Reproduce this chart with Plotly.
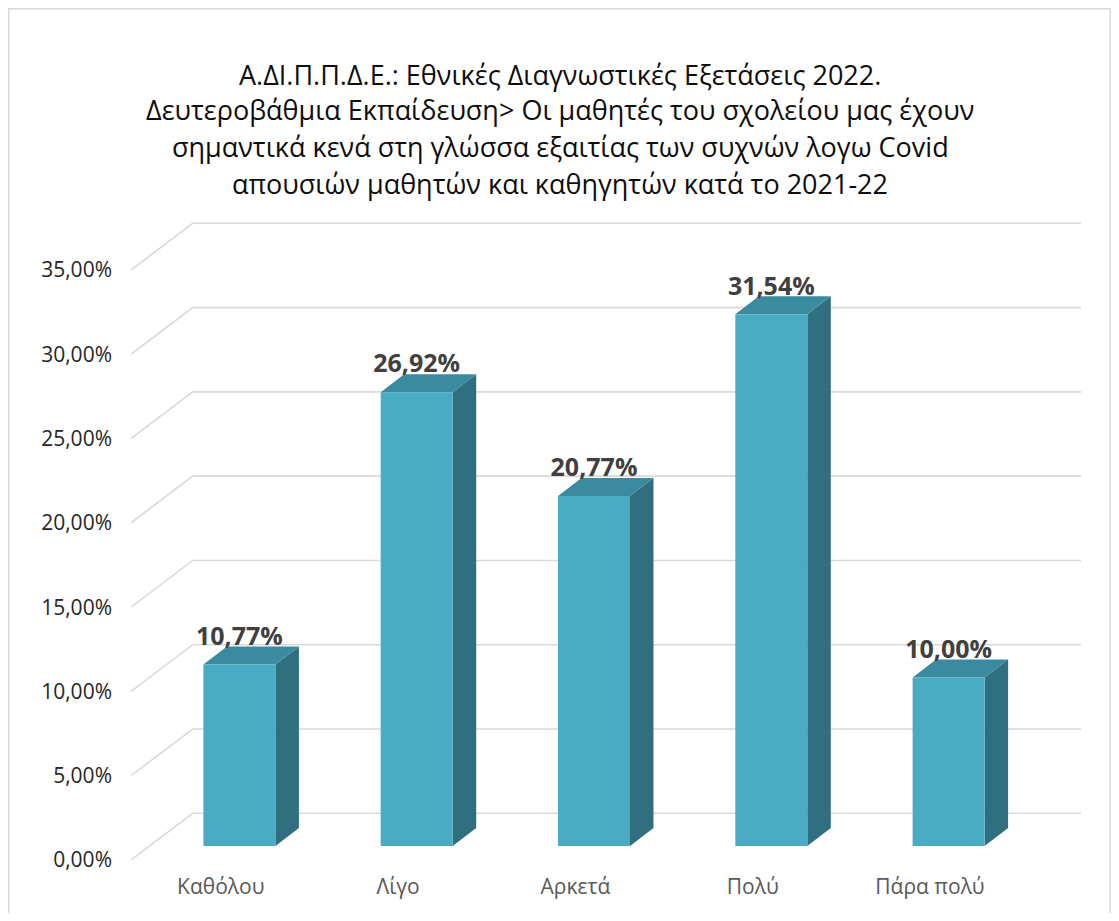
import plotly.graph_objects as go

# ---------------- data ----------------
categories = ["Καθόλου", "Λίγο", "Αρκετά", "Πολύ", "Πάρα πολύ"]
values = [10.77, 26.92, 20.77, 31.54, 10.00]
tick_values = [0, 5, 10, 15, 20, 25, 30, 35]
title_lines = [
    "Α.ΔΙ.Π.Π.Δ.Ε.: Εθνικές Διαγνωστικές Εξετάσεις 2022.",
    "Δευτεροβάθμια Εκπαίδευση> Οι μαθητές του σχολείου μας έχουν",
    "σημαντικά κενά στη γλώσσα εξαιτίας των συχνών λογω Covid",
    "απουσιών μαθητών και καθηγητών κατά το 2021-22",
]

# ---------------- geometry / style (screen pixels) ----------------
PAGE = 8                                   # default body margin of the page
FIG_W, FIG_H = 1119 - 2 * PAGE, 921 - 2 * PAGE
L, R, T, B = 131, 1081, 215, 860          # plot area (screen px)
W, H = R - L, B - T
PX_PER_UNIT_Y = 16.857
PX_PER_CAT = 177.3
BAR_CENTER0 = 239.4
LABEL_CENTER0 = 220.8
BAR_FLOOR_PX = 846
BAR_WIDTH_PX = 72
DEPTH_DX, DEPTH_DY = 23.5, 18.0             # bar depth
WALL_DX, WALL_DY = 61.7, 46.7               # wall depth
LABEL_DROP_PX = 4.5
TITLE_Y = [74, 110, 147, 184]
TITLE_X = 560

FONT = "Open Sans"
FRONT = "#4AABC5"
SIDE = "#306F7F"
TOP = "#3B8BA0"
GRID = "#D9D9D9"

y2_top = H / PX_PER_UNIT_Y
bar_shift = (B - BAR_FLOOR_PX) / PX_PER_UNIT_Y
bar_w = BAR_WIDTH_PX / PX_PER_CAT
ddx = DEPTH_DX / PX_PER_CAT
ddy = DEPTH_DY / PX_PER_UNIT_Y
wall_dy = WALL_DY / PX_PER_UNIT_Y
label_drop = LABEL_DROP_PX / PX_PER_UNIT_Y


def px_x(px):
    return (px - L) / W


def px_y(py):
    return (B - py) / H


def x2u(px):
    return (px - LABEL_CENTER0) / PX_PER_CAT


def pct(v):
    return f"{v:.2f}%".replace(".", ",")


fig = go.Figure()

# front faces of the bars
fig.add_trace(go.Bar(
    x=categories, y=values, width=bar_w,
    marker=dict(color=FRONT, line=dict(width=0)),
    xaxis="x", yaxis="y", hoverinfo="skip", showlegend=False,
))

# data labels
fig.add_trace(go.Scatter(
    x=categories, y=[v + ddy - label_drop for v in values], mode="text",
    text=[pct(v) for v in values],
    textposition="top center",
    textfont=dict(family=FONT, size=25, color="#404040", weight="bold"),
    xaxis="x", yaxis="y", hoverinfo="skip", showlegend=False,
))

# invisible trace carrying the category tick labels axis
fig.add_trace(go.Scatter(
    x=categories, y=[0] * len(categories), mode="markers",
    marker=dict(opacity=0), xaxis="x2", yaxis="y2",
    hoverinfo="skip", showlegend=False,
))

shapes = []
# border
shapes.append(dict(type="rect", xref="paper", yref="paper",
                   x0=px_x(PAGE + 0.8), x1=px_x(1119 - PAGE - 0.8),
                   y0=px_y(940), y1=px_y(PAGE + 0.8),
                   line=dict(color=GRID, width=1.5), layer="below"))

# 3-D gridlines (front edge -> back wall)
xf, xb, xr = x2u(L), x2u(L + WALL_DX), x2u(R)
for v in tick_values:
    shapes.append(dict(
        type="path", xref="x2", yref="y2",
        path=f"M {xf},{v} L {xb},{v + wall_dy} L {xr},{v + wall_dy}",
        line=dict(color=GRID, width=1.6), layer="below"))

# side and top faces of bars
for i, v in enumerate(values):
    xl, xrt = i - bar_w / 2, i + bar_w / 2
    shapes.append(dict(
        type="path", xref="x", yref="y",
        path=(f"M {xrt},0 L {xrt + ddx},{ddy} L {xrt + ddx},{v + ddy} "
              f"L {xrt},{v} Z"),
        fillcolor=SIDE, line=dict(width=0), layer="below"))
    shapes.append(dict(
        type="path", xref="x", yref="y",
        path=(f"M {xl},{v} L {xl + ddx},{v + ddy} L {xrt + ddx},{v + ddy} "
              f"L {xrt},{v} Z"),
        fillcolor=TOP, line=dict(width=0), layer="below"))

annotations = []
for line, yc in zip(title_lines, TITLE_Y):
    annotations.append(dict(
        text=line, xref="paper", yref="paper", x=px_x(TITLE_X), y=px_y(yc),
        xanchor="center", yanchor="middle", showarrow=False,
        font=dict(family=FONT, size=27, color="#0D0D0D")))

fig.update_layout(
    width=FIG_W, height=FIG_H,
    margin=dict(l=L - PAGE, r=FIG_W - (R - PAGE), t=T - PAGE,
                b=FIG_H - (B - PAGE), pad=0),
    paper_bgcolor="white", plot_bgcolor="rgba(0,0,0,0)",
    separators=",.",
    showlegend=False,
    font=dict(family=FONT),
    xaxis=dict(type="category", range=[(L - BAR_CENTER0) / PX_PER_CAT,
                                       (R - BAR_CENTER0) / PX_PER_CAT],
               showticklabels=False, showgrid=False, zeroline=False,
               showline=False, ticks="", fixedrange=True),
    yaxis=dict(range=[-bar_shift, y2_top - bar_shift], showticklabels=False,
               showgrid=False, zeroline=False, showline=False, ticks="",
               fixedrange=True),
    xaxis2=dict(type="category", overlaying="x", side="bottom", anchor="y2",
                range=[x2u(L), x2u(R)], showgrid=False, zeroline=False,
                showline=False, ticks="", ticklabelstandoff=12,
                tickfont=dict(family=FONT, size=21, color="#595959"),
                fixedrange=True),
    yaxis2=dict(overlaying="y", side="left", anchor="x2",
                range=[0, y2_top], tickmode="array", tickvals=tick_values,
                ticktext=[pct(v) for v in tick_values],
                showgrid=False, zeroline=False, showline=False, ticks="",
                ticklabelstandoff=18,
                tickfont=dict(family=FONT, size=21, color="#262626"),
                fixedrange=True),
    shapes=shapes,
    annotations=annotations,
)

fig.write_html("out.html")
